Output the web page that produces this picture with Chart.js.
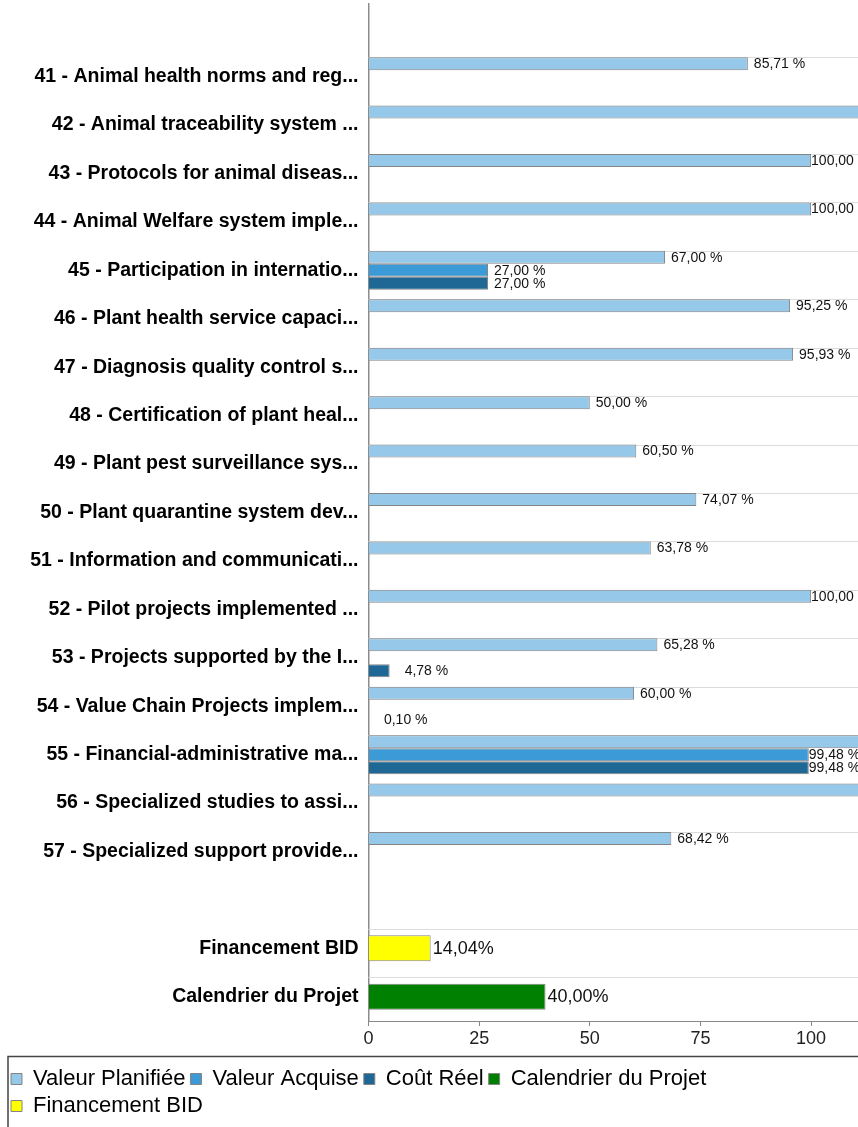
<!DOCTYPE html>
<html>
<head>
<meta charset="utf-8">
<script src="https://cdn.jsdelivr.net/npm/chart.js@4.4.1/dist/chart.umd.min.js"></script>
<style>
  html, body { margin: 0; padding: 0; background: #fff; overflow: hidden; }
  #chart { display: block; }
</style>
</head>
<body>
<canvas id="chart" width="858" height="1127"></canvas>
<script>
// categories (first and 19th are empty spacer rows)
var categories = [
    '',
    '41 - Animal health norms and reg...',
    '42 - Animal traceability system ...',
    '43 - Protocols for animal diseas...',
    '44 - Animal Welfare system imple...',
    '45 - Participation in internatio...',
    '46 - Plant health service capaci...',
    '47 - Diagnosis quality control s...',
    '48 - Certification of plant heal...',
    '49 - Plant pest surveillance sys...',
    '50 - Plant quarantine system dev...',
    '51 - Information and communicati...',
    '52 - Pilot projects implemented ...',
    '53 - Projects supported by the I...',
    '54 - Value Chain Projects implem...',
    '55 - Financial-administrative ma...',
    '56 - Specialized studies to assi...',
    '57 - Specialized support provide...',
    '',
    'Financement BID',
    'Calendrier du Projet'
];

var valeurPlanifiee = [null, 85.71, 125, 100, 100, 67, 95.25, 95.93, 50, 60.5, 74.07, 63.78, 100, 65.28, 60, 125, 125, 68.42, null, null, null];
var valeurAcquise   = [null, 0, 0, 0, 0, 27, 0, 0, 0, 0, 0, 0, 0, 0, 0, 99.48, 0, 0, null, null, null];
var coutReel        = [null, 0, 0, 0, 0, 27, 0, 0, 0, 0, 0, 0, 0, 4.78, 0.10, 99.48, 0, 0, null, null, null];
var calendrier      = [null, null, null, null, null, null, null, null, null, null, null, null, null, null, null, null, null, null, null, null, 40.00];
var financement     = [null, null, null, null, null, null, null, null, null, null, null, null, null, null, null, null, null, null, null, 14.04, null];

var xTicks = [0, 25, 50, 75, 100];

var catPct = 0.805;
var fontName = '"Liberation Sans", Arial, sans-serif';

// light gridline on top of every bar group
var rowLines = {
    id: 'rowLines',
    beforeDatasetsDraw: function (chart) {
        var ctx = chart.ctx, area = chart.chartArea, y = chart.scales.y;
        var band = y.getPixelForValue(1) - y.getPixelForValue(0);
        ctx.save();
        ctx.strokeStyle = '#dcdcdc';
        ctx.lineWidth = 1;
        categories.forEach(function (c, i) {
            if (!c) return;
            var top = Math.round(y.getPixelForValue(i) - band * catPct / 2) + 0.5;
            ctx.beginPath();
            ctx.moveTo(area.left, top);
            ctx.lineTo(area.right, top);
            ctx.stroke();
        });
        ctx.restore();
    }
};

// value labels at the end of the bars
var valueLabels = {
    id: 'valueLabels',
    afterDatasetsDraw: function (chart) {
        var ctx = chart.ctx, area = chart.chartArea;
        ctx.save();
        ctx.textBaseline = 'middle';
        ctx.textAlign = 'left';
        ctx.fillStyle = '#111';
        chart.data.datasets.forEach(function (ds, di) {
            var meta = chart.getDatasetMeta(di);
            var big = di >= 3;
            ctx.font = (big ? '18px ' : '14px ') + fontName;
            meta.data.forEach(function (bar, i) {
                var v = ds.data[i];
                if (v === null || v === 0) return;
                var text = v.toFixed(2).replace('.', ',') + (big ? '%' : ' %');
                var w = ctx.measureText(text).width;
                var x = bar.x + (big ? 2 : (v < 10 ? 15 : 6));
                if (x + w > area.right) x = Math.max(bar.x, area.right - w);
                if (x >= area.right) return;
                ctx.fillText(text, x, bar.y + 0.5);
            });
        });
        ctx.restore();
    }
};

// frame around the legend
var legendFrame = {
    id: 'legendFrame',
    afterDraw: function (chart) {
        var l = chart.legend, ctx = chart.ctx;
        ctx.save();
        ctx.strokeStyle = '#444';
        ctx.lineWidth = 1.5;
        ctx.strokeRect(l.left + 2, l.top - 6.5, chart.width + 20, l.height + 30);
        ctx.restore();
    }
};

var ctx = document.getElementById('chart').getContext('2d');
new Chart(ctx, {
    type: 'bar',
    data: {
        labels: categories,
        datasets: [
            { label: 'Valeur Planifiée', data: valeurPlanifiee, backgroundColor: '#95c8e9', borderColor: '#848484', borderWidth: 1 },
            { label: 'Valeur Acquise', data: valeurAcquise, backgroundColor: '#3c9ad6', borderColor: '#848484', borderWidth: 1 },
            { label: 'Coût Réel', data: coutReel, backgroundColor: '#1f6896', borderColor: '#848484', borderWidth: 1 },
            { label: 'Calendrier du Projet', data: calendrier, backgroundColor: '#008000', borderColor: '#848484', borderWidth: 1, barPercentage: 0.667 },
            { label: 'Financement BID', data: financement, backgroundColor: '#ffff00', borderColor: '#848484', borderWidth: 1, barPercentage: 0.667 }
        ]
    },
    options: {
        indexAxis: 'y',
        responsive: false,
        animation: false,
        devicePixelRatio: 1,
        skipNull: true,
        categoryPercentage: catPct,
        barPercentage: 1,
        layout: { padding: { top: 4, left: 6, right: 0, bottom: 0 } },
        scales: {
            x: {
                type: 'linear',
                min: 0,
                max: 110.6,
                afterBuildTicks: function (scale) {
                    scale.ticks = xTicks.map(function (v) { return { value: v }; });
                },
                afterFit: function (scale) { scale.height = 42; },
                grid: { drawOnChartArea: false, drawTicks: true, tickLength: 5, color: '#888' },
                border: { display: true, color: '#888', width: 1 },
                ticks: { font: { family: fontName, size: 18 }, color: '#222', padding: 2 }
            },
            y: {
                type: 'category',
                afterFit: function (scale) {
                    scale.width = 362.5;
                    scale.paddingTop = 0;
                    scale.paddingBottom = 0;
                },
                grid: { display: false, drawTicks: false },
                border: { display: true, color: '#8c8c8c', width: 1.5 },
                ticks: { autoSkip: false, padding: 10, color: '#000', font: { family: fontName, size: 19.5, weight: 'bold' } }
            }
        },
        plugins: {
            legend: {
                position: 'bottom',
                align: 'start',
                labels: { boxWidth: 11, boxHeight: 11, padding: 5, color: '#000', font: { family: fontName, size: 22 } }
            },
            tooltip: { enabled: false }
        }
    },
    plugins: [rowLines, valueLabels, legendFrame]
});
</script>
</body>
</html>
